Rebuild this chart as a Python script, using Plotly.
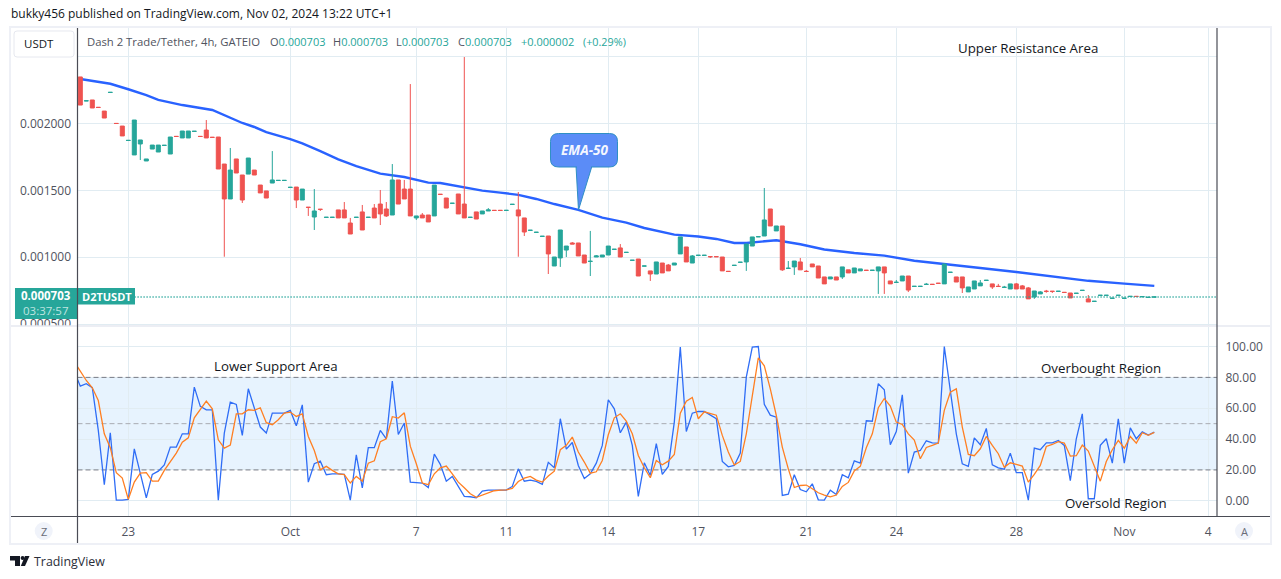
import plotly.graph_objects as go

W, H = 1281, 579

# D2T/USDT 4h candles, prices in millionths of a USDT
open_micro = [
    2348,2169,2176,2121,2093,2232,2001,1981,1873,1765,
    1847,1720,1809,1787,1836,1772,1904,1892,1892,1941,
    1904,1951,1897,1899,1697,1436,1735,1615,1622,1652,
    1540,1496,1555,1574,1574,1522,1525,1428,1374,1301,
    1359,1298,1298,1354,1354,1256,1298,1339,1298,1368,
    1398,1361,1316,1578,1510,1510,1294,1316,1316,1309,
    1471,1443,1403,1473,1398,1298,1339,1324,1346,1351,
    1351,1350,1395,1354,1294,1201,1186,1156,1159,935,
    995,1054,1107,1107,1017,969,1002,1002,1017,1059,
    1070,1036,977,987,934,898,875,957,942,942,
    1025,1077,957,1014,1014,1005,1005,1002,895,939,
    962,965,1084,1153,1159,1361,1197,1234,917,928,
    965,895,950,935,853,838,853,853,906,883,
    898,903,902,898,928,823,812,823,860,782,
    782,797,798,806,801,887,853,853,741,763,
    786,827,801,783,775,763,801,786,771,703,
    726,746,746,745,738,733,730,752,689,670,
    715,715,693,715,693,707,708,705,700,703,
]
high_micro = [
    2348,2170,2176,2121,2093,2233,2001,1981,1874,2026,
    1877,1735,1839,1839,1837,1899,1904,1944,1944,1942,
    1904,2026,1897,1899,1697,1817,1735,1615,1742,1652,
    1540,1496,1794,1575,1575,1523,1525,1510,1374,1510,
    1359,1299,1299,1354,1413,1294,1299,1391,1299,1398,
    1503,1413,1697,1578,1578,2295,1309,1331,1316,1540,
    1471,1443,1404,1473,2497,1299,1339,1346,1368,1351,
    1351,1351,1396,1488,1294,1202,1187,1157,1159,1002,
    1204,1084,1114,1107,1017,1197,1017,1017,1084,1060,
    1099,1037,978,987,935,898,965,957,950,957,
    1152,1077,1017,1015,1015,1005,1005,1002,895,940,
    963,1099,1152,1154,1518,1361,1234,1234,972,972,
    995,905,950,935,853,853,853,928,906,920,
    913,903,903,928,928,823,830,860,860,783,
    783,808,798,806,950,888,853,853,778,823,
    830,828,801,801,786,801,808,793,778,748,
    748,756,746,746,738,733,731,753,718,671,
    716,716,694,716,694,708,708,706,701,703,
]
low_micro = [
    2138,2169,2116,2120,2041,2232,2000,1907,1873,1765,
    1727,1720,1809,1787,1836,1772,1903,1892,1892,1941,
    1903,1892,1896,1660,1004,1436,1630,1406,1622,1615,
    1481,1443,1555,1574,1574,1522,1368,1428,1309,1204,
    1346,1298,1298,1294,1294,1174,1298,1204,1298,1294,
    1241,1301,1316,1398,1436,1309,1279,1294,1264,1309,
    1470,1368,1403,1324,1294,1298,1286,1324,1346,1350,
    1350,1350,1395,1004,1159,1201,1186,1156,875,935,
    928,1002,1099,1010,957,860,1002,1002,1017,1059,
    1002,1036,977,860,934,823,875,883,898,942,
    1025,965,957,1014,1014,995,1004,898,894,939,
    962,898,1084,1153,1159,1234,1197,898,917,868,
    906,894,928,845,801,838,830,838,883,883,
    898,902,902,726,726,801,812,823,740,782,
    782,797,797,805,801,887,815,733,741,763,
    786,827,763,782,775,763,763,763,689,689,
    726,735,733,745,737,696,730,752,666,670,
    715,715,693,715,693,707,707,705,700,703,
]
close_micro = [
    2138,2170,2116,2120,2041,2233,2000,1907,1874,2026,
    1877,1735,1839,1839,1837,1899,1903,1944,1944,1942,
    1903,1892,1896,1660,1436,1652,1630,1428,1742,1615,
    1481,1443,1578,1575,1575,1523,1428,1510,1373,1346,
    1358,1299,1299,1294,1294,1174,1299,1204,1299,1294,
    1324,1309,1578,1398,1436,1309,1309,1294,1264,1540,
    1470,1368,1404,1324,1294,1299,1286,1346,1354,1350,
    1350,1351,1396,1309,1189,1202,1187,1157,1025,1002,
    1204,1084,1099,1010,957,970,1010,1017,1084,1060,
    1002,1037,978,860,935,875,965,883,898,957,
    1152,965,1010,1015,1015,1004,1004,898,894,940,
    963,1099,1152,1154,1279,1234,1234,906,918,972,
    906,894,928,845,801,853,830,928,883,920,
    913,902,903,928,883,801,813,860,755,783,
    783,798,797,805,950,888,815,771,778,823,
    808,828,778,782,776,801,763,763,689,748,
    741,745,745,746,737,696,731,753,666,671,
    716,716,694,716,694,708,707,706,701,703,
]

# EMA-50, sampled along the curve
ema_bars = [0,3,5,8,11,13,17,22,24,27,29,31,35,37,40,43,46,50,54,58,60,64,67,70,73,76,79,83,87,91,94,
            99,103,106,109,111,114,116,120,124,129,134,139,144,150,156,162,168,174,179]
ema_micro = [2333,2310,2297,2256,2213,2177,2138,2101,2060,2004,1974,1936,1884,1852,1794,1732,1681,1625,
             1600,1558,1555,1525,1498,1483,1467,1436,1398,1354,1296,1259,1219,1169,1155,1137,1107,1107,
             1118,1127,1097,1058,1032,1012,974,947,920,890,859,824,803,786]

# RSI(14) and its moving average; the leading value sits just left of the first candle
rsi_values = [
    83.8,
    74.3,75.9,73.3,45.6,10.4,44.1,0.4,0.4,0.9,33.7,
    18.6,1.9,17.1,19.2,23.3,34.8,34.8,43.4,43.4,73.7,
    61.2,59.0,59.0,0.4,43.9,64.0,62.5,42.4,72.6,60.7,
    47.8,43.9,56.8,56.8,56.8,58.6,48.6,62.2,12.1,24.0,
    25.7,16.9,17.5,17.5,17.1,0.4,29.8,8.4,34.4,34.4,
    45.6,40.2,77.6,43.0,50.4,12.1,11.7,11.5,8.6,30.3,
    23.6,12.7,15.8,8.9,2.8,2.6,1.9,6.3,6.9,6.9,
    6.9,6.9,9.3,20.7,12.7,13.4,12.5,10.6,24.9,21.4,
    53.2,33.5,37.8,22.9,14.5,17.5,24.4,35.9,65.5,59.6,
    44.1,51.0,35.9,2.8,24.6,16.4,37.0,17.1,22.3,51.0,
    99.6,44.9,56.8,57.9,57.9,55.3,53.2,25.5,22.0,22.9,
    30.9,80.2,99.6,100.0,62.5,55.5,54.2,3.5,4.3,16.9,
    7.3,5.8,11.0,0.6,0.4,6.9,4.1,16.9,14.9,25.9,
    24.4,51.9,51.6,75.9,72.0,36.3,44.9,68.7,17.9,31.6,
    32.6,38.9,37.6,37.4,100.0,71.5,43.4,24.0,22.3,40.8,
    36.3,46.9,23.3,21.4,20.5,30.9,18.2,18.2,0.4,34.1,
    33.1,37.6,37.6,39.1,35.9,13.0,40.2,56.4,1.3,1.3,
    35.9,40.2,24.4,53.2,24.4,47.3,40.2,44.7,42.6,44.5,
]
rsi_ma_values = [
    90.1,
    84.1,78.0,73.3,65.0,43.4,34.4,18.2,14.7,0.9,12.1,
    17.9,18.2,12.7,12.7,19.7,25.7,30.9,38.0,40.8,53.8,
    59.2,64.6,59.6,39.5,34.1,36.1,56.4,56.4,59.0,58.6,
    60.3,50.6,49.3,52.5,56.8,57.5,54.7,56.4,41.7,32.6,
    20.1,22.3,19.7,17.5,16.9,11.5,15.8,12.7,24.4,25.9,
    38.3,40.2,54.5,53.6,57.0,35.4,24.0,11.5,10.4,17.5,
    21.4,22.5,17.5,12.1,8.4,4.5,2.2,3.7,5.0,6.5,
    6.9,7.1,8.0,12.5,14.7,15.8,13.4,12.1,16.0,19.2,
    33.1,35.9,41.3,31.6,25.1,17.9,18.8,26.1,42.8,53.8,
    56.4,51.6,43.4,29.4,21.4,14.9,26.1,23.3,25.7,30.0,
    56.8,64.6,67.0,53.2,57.7,56.8,55.5,42.4,31.6,23.1,
    25.5,43.4,69.4,92.7,87.5,72.6,55.3,34.8,20.7,8.6,
    9.9,10.2,7.8,5.2,3.7,2.6,3.7,9.3,11.9,19.4,
    22.3,34.4,43.4,60.3,66.3,61.4,51.0,49.5,43.4,39.3,
    27.2,34.6,35.9,37.4,58.6,70.4,72.6,47.8,30.0,29.2,
    33.7,41.7,35.9,30.5,21.8,24.6,23.6,22.5,12.1,17.1,
    22.9,35.2,36.5,38.3,37.4,29.0,29.2,36.1,32.2,21.8,
    12.7,25.5,33.1,39.1,34.1,41.7,37.4,44.1,42.4,44.3,
]

# Time axis labels and the bars they sit under
time_tick_bars = [8,35,56,71,88,103,121,136,156,174,188]
time_tick_labels = ["23","Oct","7","11","14","17","21","24","28","Nov","4"]

price_ticks_micro = [500,1000,1500,2000,2500]
price_tick_labels = ["0.000500","0.001000","0.001500","0.002000",""]
rsi_ticks = [0,20,40,60,80,100]
rsi_tick_labels = ["0.00","20.00","40.00","60.00","80.00","100.00"]
last_price_micro = 703

MICRO = 1e-6
GREEN = "#26a69a"
RED = "#ef5350"
GRID = "#e1ecf2"
AXIS = "#4a4c55"
TEXT = "#50535e"
INK = "#131722"
FONT = "Open Sans"

bars = list(range(len(open_micro)))
rsi_bars = [-1] + bars


def fx(px):
    return px / W


def fy(py):
    return 1 - py / H


def prices(values):
    return [round(v * MICRO, 6) for v in values]


x_range = [-0.467, 189.45]
price_range = [490 * MICRO, 2714 * MICRO]
rsi_range = [-10.2, 113.0]
x_domain = [fx(77.5), fx(1217)]
top_domain = [fy(325.5), fy(28)]
bottom_domain = [fy(516.5), fy(326.5)]

fig = go.Figure()

fig.add_trace(go.Scatter(
    x=ema_bars, y=prices(ema_micro), mode="lines", xaxis="x", yaxis="y",
    line=dict(color="#2962ff", width=2.4), hoverinfo="skip",
))
fig.add_trace(go.Candlestick(
    x=bars, open=prices(open_micro), high=prices(high_micro), low=prices(low_micro),
    close=prices(close_micro), xaxis="x2", yaxis="y2", whiskerwidth=0,
    increasing=dict(line=dict(color=GREEN, width=1), fillcolor=GREEN),
    decreasing=dict(line=dict(color=RED, width=1), fillcolor=RED),
    hoverinfo="skip",
))
fig.add_trace(go.Scatter(
    x=rsi_bars, y=rsi_values, mode="lines", xaxis="x3", yaxis="y3",
    line=dict(color="#2f6df6", width=1.3), hoverinfo="skip",
))
fig.add_trace(go.Scatter(
    x=rsi_bars, y=rsi_ma_values, mode="lines", xaxis="x3", yaxis="y3",
    line=dict(color="#ff7f22", width=1.3), hoverinfo="skip",
))

shapes = []


def rect(x0, y0, x1, y1, fill=None, line=None, width=1, layer="above"):
    shapes.append(dict(type="rect", xref="paper", yref="paper", x0=fx(x0), x1=fx(x1), y0=fy(y0), y1=fy(y1),
                       fillcolor=fill or "white", line=dict(color=line or "rgba(0,0,0,0)", width=width if line else 0),
                       layer=layer))


def frame(x0, y0, x1, y1, color, width):
    shapes.append(dict(type="rect", xref="paper", yref="paper", x0=fx(x0), x1=fx(x1), y0=fy(y0), y1=fy(y1),
                       fillcolor="rgba(0,0,0,0)", line=dict(color=color, width=width), layer="above"))


def seg(x0, y0, x1, y1, color, width=1, layer="above"):
    shapes.append(dict(type="line", xref="paper", yref="paper", x0=fx(x0), x1=fx(x1), y0=fy(y0), y1=fy(y1),
                       line=dict(color=color, width=width), layer=layer))


def poly(points, fill, line=None, width=1):
    path = "M " + " L ".join(f"{fx(a):.5f},{fy(b):.5f}" for a, b in points) + " Z"
    shapes.append(dict(type="path", xref="paper", yref="paper", path=path, fillcolor=fill,
                       line=dict(color=line or "rgba(0,0,0,0)", width=width if line else 0), layer="above"))


def round_rect_path(x0, y0, x1, y1, r):
    c = lambda a, b: f"{fx(a):.5f},{fy(b):.5f}"
    return (f"M {c(x0 + r, y0)} L {c(x1 - r, y0)} Q {c(x1, y0)} {c(x1, y0 + r)} L {c(x1, y1 - r)} "
            f"Q {c(x1, y1)} {c(x1 - r, y1)} L {c(x0 + r, y1)} Q {c(x0, y1)} {c(x0, y1 - r)} "
            f"L {c(x0, y0 + r)} Q {c(x0, y0)} {c(x0 + r, y0)} Z")


# RSI band and its guide levels
shapes.append(dict(type="rect", xref="x3", yref="y3", x0=x_range[0], x1=x_range[1], y0=20, y1=80,
                   fillcolor="rgba(33,150,243,0.11)", line=dict(width=0), layer="below"))
for level, color in [(80, "#787b86"), (50, "#a9abb2"), (20, "#787b86")]:
    shapes.append(dict(type="line", xref="x3", yref="y3", x0=x_range[0], x1=x_range[1], y0=level, y1=level,
                       line=dict(color=color, width=1, dash="5px,3px"), layer="between"))

# Dotted last-price line
shapes.append(dict(type="line", xref="x", yref="y", x0=x_range[0], x1=x_range[1],
                   y0=last_price_micro * MICRO, y1=last_price_micro * MICRO,
                   line=dict(color=GREEN, width=1.3, dash="1.2px,1.8px"), layer="above"))

# Hides the part of the price scale below the top pane
rect(11, 326, 77, 516)

# Last-price tags
rect(15, 288, 77, 319, fill=GREEN)
rect(78, 288, 135, 304.5, fill=GREEN)

# Frame and pane separators
frame(10, 27, 1271, 544, "#eef0f6", 2)
seg(11, 326, 1270, 326, "#e6e9f0", 1.5)
seg(11, 516.5, 1270, 516.5, AXIS, 1.2)
seg(77.5, 28, 77.5, 543, AXIS, 1.2)
seg(1217, 28, 1217, 516.5, AXIS, 1.2)

# USDT button
shapes.append(dict(type="path", xref="paper", yref="paper", path=round_rect_path(14, 31, 74, 57, 3),
                   fillcolor="white", line=dict(color="#e6e8ef", width=1), layer="above"))

# EMA-50 callout
poly([(576, 166), (592, 166), (578.5, 210)], "#5b8cf7", "#2f8fc4", 1)
shapes.append(dict(type="path", xref="paper", yref="paper", path=round_rect_path(550.5, 133.5, 617.5, 167, 8),
                   fillcolor="#5b8cf7", line=dict(color="#2f8fc4", width=1), layer="above"))
rect(577, 164, 591, 168, fill="#5b8cf7")

# Scale-mode buttons
for cx in (43.7, 1244):
    shapes.append(dict(type="circle", xref="paper", yref="paper", x0=fx(cx - 9), x1=fx(cx + 9),
                       y0=fy(522), y1=fy(540), fillcolor="#f0f3fa", line=dict(width=0), layer="above"))

# Footer logo
poly([(10, 556), (20, 556), (20, 566), (15, 566), (15, 560.5), (10, 560.5)], "#131722")
shapes.append(dict(type="circle", xref="paper", yref="paper", x0=fx(20.6), x1=fx(24.6), y0=fy(556), y1=fy(560),
                   fillcolor="#131722", line=dict(width=0), layer="above"))
poly([(25, 556), (29.5, 556), (25, 566), (20.8, 566)], "#131722")

annotations = []


def label(px, py, text, size=12, color=INK, anchor="left", font=FONT):
    annotations.append(dict(xref="paper", yref="paper", x=fx(px), y=fy(py), text=text, showarrow=False,
                            xanchor=anchor, yanchor="middle", align=anchor, borderpad=0,
                            font=dict(family=font, size=size, color=color)))


label(10, 13.5, "bukky456 published on TradingView.com, Nov 02, 2024 13:22 UTC+1", 12)
label(22.5, 44, "USDT", 11.5, INK)
label(85.5, 41.5, "Dash 2 Trade/Tether, 4h, GATEIO", 11.3, TEXT)
for px, letter, value in [(269, "O", "0.000703"), (332, "H", "0.000703"), (395, "L", "0.000703"), (457, "C", "0.000703")]:
    label(px, 41.5, f'<span style="color:{TEXT}">{letter}</span>{value}', 11, GREEN)
label(520, 41.5, "+0.000002", 11, GREEN)
label(582, 41.5, "(+0.29%)", 10.8, GREEN)

label(1028, 48, "Upper Resistance Area", 13.3, INK, "center")
label(275.5, 365.5, "Lower Support Area", 13.3, INK, "center")
label(1101, 367.5, "Overbought Region", 13.3, INK, "center")
label(1116, 502.5, "Oversold Region", 13.3, INK, "center")
label(584, 150, "<b><i>EMA-50</i></b>", 13.5, "#f4f7ff", "center")

label(45.5, 295.5, "<b>0.000703</b>", 11.5, "white", "center")
label(46, 310.5, "03:37:57", 11.5, "#bfe5e0", "center")
label(106.5, 296.5, "<b>D2TUSDT</b>", 11, "white", "center")

label(43.7, 531.5, "Z", 11, "#6a6d78", "center")
label(1244, 531.5, "A", 11, "#6a6d78", "center")
label(33, 561, "TradingView", 12.4, "#2a2e39")

fig.update_layout(
    width=W, height=H, autosize=False,
    margin=dict(l=0, r=0, t=0, b=0, autoexpand=False),
    paper_bgcolor="white", plot_bgcolor="rgba(0,0,0,0)",
    showlegend=False, dragmode=False, shapes=shapes, annotations=annotations,
    boxgap=0.33, boxgroupgap=0,
    font=dict(family=FONT, size=12, color=TEXT),
    xaxis=dict(domain=x_domain, range=x_range, anchor="y", showticklabels=False, ticks="", automargin=False,
               tickmode="array", tickvals=time_tick_bars, showgrid=True, gridcolor=GRID, gridwidth=1,
               zeroline=False, showline=False),
    yaxis=dict(domain=top_domain, range=price_range, anchor="x", side="left", automargin=False,
               tickmode="array", tickvals=prices(price_ticks_micro), ticktext=price_tick_labels,
               showgrid=True, gridcolor=GRID, gridwidth=1, zeroline=False, showline=False,
               ticks="outside", ticklen=3, tickcolor="rgba(0,0,0,0)", tickfont=dict(family=FONT, size=12, color=TEXT)),
    xaxis2=dict(domain=x_domain, range=x_range, anchor="y2", overlaying="x", visible=False, automargin=False,
                rangeslider=dict(visible=False)),
    yaxis2=dict(domain=top_domain, range=price_range, anchor="x2", overlaying="y", visible=False, automargin=False),
    xaxis3=dict(domain=x_domain, range=x_range, anchor="y3", side="bottom", automargin=False,
                tickmode="array", tickvals=time_tick_bars, ticktext=time_tick_labels,
                showgrid=True, gridcolor=GRID, gridwidth=1, zeroline=False, showline=False,
                ticks="outside", ticklen=4, tickcolor="rgba(0,0,0,0)", tickfont=dict(family=FONT, size=12, color=TEXT)),
    yaxis3=dict(domain=bottom_domain, range=rsi_range, anchor="x3", side="right", automargin=False,
                tickmode="array", tickvals=rsi_ticks, ticktext=rsi_tick_labels,
                showgrid=True, gridcolor=GRID, gridwidth=1, zeroline=False, showline=False,
                ticks="outside", ticklen=5, tickcolor="rgba(0,0,0,0)", tickfont=dict(family=FONT, size=12, color=TEXT)),
)

fig.write_html("out.html", config=dict(displayModeBar=False))
